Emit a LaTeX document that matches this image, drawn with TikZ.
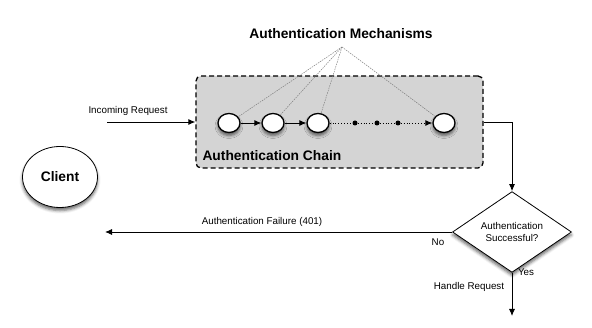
\documentclass[tikz,border=0pt]{standalone}
\usepackage{fontspec}
\setmainfont{Liberation Sans}
\usetikzlibrary{arrows.meta,shapes.geometric,shadows.blur}
\begin{document}
\begin{tikzpicture}[x=1pt,y=-1pt,
  arr/.style={-{Latex[length=7pt,width=6pt]}, line width=0.9pt},
  shad/.style={blur shadow={shadow xshift=0pt, shadow yshift=-3pt, shadow blur radius=3pt, shadow opacity=60}},
  chainnode/.style={ellipse, draw, line width=1.3pt, fill=white, minimum width=22pt, minimum height=19pt, inner sep=0pt, shad},
  dotnode/.style={circle, fill=black, inner sep=0pt, minimum size=5pt},
  mechline/.style={draw=gray, line width=0.5pt, dash pattern=on 1.5pt off 1pt},
  small/.style={font=\fontsize{9.8}{11.5}\selectfont},
  big/.style={font=\fontsize{13.8}{16}\selectfont\bfseries},
]
\useasboundingbox (0,0) rectangle (592,328);

% chain box
\node[draw, line width=1.3pt, dash pattern=on 5pt off 3pt, fill={rgb,255:red,212;green,212;blue,212}, rounded corners=5pt,
      minimum width=287pt, minimum height=92pt, inner sep=0pt] (chain) at (339.5,122) {};
\node[big, anchor=west] (chainlbl) at (199,156) {Authentication Chain};

% chain elements
\node[chainnode] (c1) at (229,123) {};
\node[chainnode] (c2) at (273,123) {};
\node[chainnode] (c3) at (318,123) {};
\node[chainnode] (c4) at (444,123) {};
\node[dotnode] (d1) at (355,123) {};
\node[dotnode] (d2) at (377,123) {};
\node[dotnode] (d3) at (398,123) {};

\draw[arr] (c1) -- (c2);
\draw[arr] (c2) -- (c3);
\draw[dotted, line width=0.9pt] (c3) -- (d1) -- (d2) -- (d3);
\draw[arr, dotted] (d3) -- (c4);

% mechanisms
\node[big] (mech) at (341,34) {Authentication Mechanisms};
\coordinate (mp) at (342,47);
\draw[mechline] (mp) -- (c1);
\draw[mechline] (mp) -- (c2);
\draw[mechline] (mp) -- (c3);
\draw[mechline] (mp) -- (c4);

% client
\node[ellipse, draw, line width=0.8pt, fill=white, minimum width=75pt, minimum height=61pt, big, shad] (client) at (60,177) {Client};

% incoming
\coordinate (inc) at (107,122);
\draw[arr] (inc) -- (chain.west);
\node[small] (inclbl) at (128,111) {Incoming Request};

% decision
\node[diamond, draw, line width=0.8pt, fill=white, minimum width=119pt, minimum height=61pt, inner sep=0pt, align=center, small, shad] (dec) at (512,232) {Authentication\\Successful?};
\draw[arr] (chain.east) -| (dec.north);

% failure
\coordinate (fail) at (105,232);
\draw[arr] (dec.west) -- (fail);
\node[small] (faillbl) at (262,222) {Authentication Failure (401)};
\node[small] (nolbl) at (438,242) {No};

% yes
\coordinate (handle) at (512,316);
\draw[arr] (dec.south) -- (handle);
\node[small] (yeslbl) at (526,272) {Yes};
\node[small] (hlbl) at (469,287) {Handle Request};
\end{tikzpicture}
\end{document}
